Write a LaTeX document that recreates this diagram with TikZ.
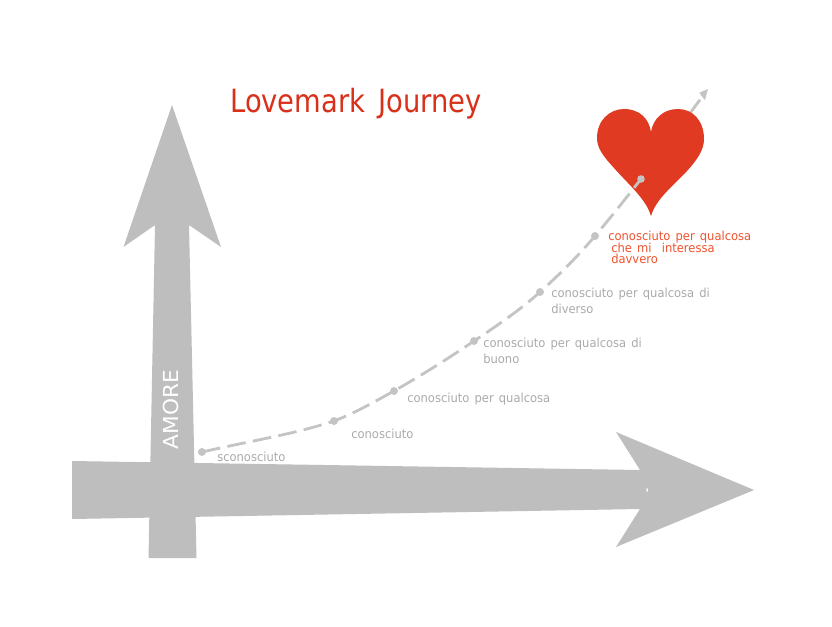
\documentclass[tikz,border=0pt]{standalone}
\usepackage{fontspec}
\usetikzlibrary{calc}
\setmainfont{DejaVu Sans}
\newfontfamily\labelfont[FakeStretch=0.93,WordSpace=1.4]{DejaVu Sans}
\newfontfamily\titlefont[FakeStretch=0.855,WordSpace=1.5]{DejaVu Sans}
\newfontfamily\amorefont[FakeStretch=1.05]{DejaVu Sans}
\definecolor{arrowgray}{HTML}{BEBEBE}
\definecolor{dashgray}{HTML}{C4C4C4}
\definecolor{labelgray}{HTML}{ABABAB}
\definecolor{heartred}{HTML}{E03A22}
\definecolor{titlered}{HTML}{D9301A}
\definecolor{notered}{HTML}{F0532F}
\tikzset{
  bigarrow/.style={fill=arrowgray,draw=none},
  dotnode/.style={circle,fill=dashgray,draw=none,inner sep=0pt,minimum size=5.7pt},
  curveline/.style={draw=dashgray,line width=2.1pt,dash pattern=on 14pt off 5.5pt},
  steplabel/.style={anchor=north west,inner sep=0pt,text=labelgray,font=\labelfont\fontsize{9.3pt}{12pt}\selectfont,align=left},
  notelabel/.style={anchor=west,inner sep=0pt,text=notered,font=\labelfont\fontsize{9.3pt}{9pt}\selectfont},
}
\begin{document}
\begin{tikzpicture}[x=0.75pt,y=-0.75pt]
\useasboundingbox (0,0) rectangle (832,626);
\fill[white] (0,0) rectangle (832,626);
% vertical arrow
\fill[bigarrow] (172,105) -- (221,247) -- (189,225) -- (196.5,558) -- (148.5,558) -- (155,225) -- (123.5,247) -- cycle;
% horizontal arrow
\fill[bigarrow] (72,461) -- (640,470) -- (616,432) -- (754,490) -- (616,547) -- (640,509) -- (72,519) -- cycle;
\fill[white] (647,487.5) -- (648,490) -- (647,492.5) -- (646.3,490) -- cycle;
\node[rotate=90,text=white,inner sep=0pt,font=\amorefont\fontsize{15.5pt}{18pt}\selectfont] (amore) at (171,409.5) {AMORE};
% heart and its arrow come after the named points
\node[dotnode] (p1) at (202,452) {};
\node[dotnode] (p2) at (334,421) {};
\node[dotnode] (p3) at (394,391) {};
\node[dotnode] (p4) at (474,341) {};
\node[dotnode] (p5) at (540,292) {};
\node[dotnode] (p6) at (595,236) {};
\node[dotnode] (p7) at (641,179) {};
\coordinate (tip) at (708,89);
% last stretch and arrowhead
\draw[dashgray,line width=2.1pt] (p7.center) -- ($(p7)!0.88!(tip)$) coordinate (neck);
\fill[dashgray] (tip) -- (699.3,92.7) -- (702,96.7) -- (705,100) -- cycle;
% heart
\fill[heartred] (651,216)
  .. controls (646,199) and (629,185) .. (614,168)
  .. controls (603,156) and (597,148) .. (597,138)
  .. controls (597,120) and (610,109) .. (624,109)
  .. controls (640,109) and (649,119) .. (651,132)
  .. controls (653,119) and (663,109) .. (678,109)
  .. controls (693,109) and (704,121) .. (704,139)
  .. controls (704,150) and (697,160) .. (687,171)
  .. controls (672,187) and (656,199) .. (651,216) -- cycle;
% curve
\draw[curveline] (p1.center) .. controls (250,441) and (295,434) .. (p2.center)
  .. controls (355,413) and (374,402) .. (p3.center)
  .. controls (422,375) and (449,358) .. (p4.center)
  .. controls (498,325) and (520,310) .. (p5.center)
  .. controls (560,274) and (578,256) .. (p6.center)
  .. controls (612,216) and (626,198) .. (p7.center);
\foreach \n in {p1,p2,p3,p4,p5,p6,p7} \fill[dashgray] (\n) circle (3.8);
% title
\node[anchor=west,inner sep=0pt,text=titlered,font=\titlefont\fontsize{24pt}{28pt}\selectfont] (title) at (230,103.5) {Lovemark Journey};
% labels
\node[steplabel] (l1) at (217,451.5) {sconosciuto};
\node[steplabel] (l2) at (351,428.5) {conosciuto};
\node[steplabel] (l3) at (407,392.5) {conosciuto per qualcosa};
\node[steplabel] (l4) at (483,337.5) {conosciuto per qualcosa di\\buono};
\node[steplabel] (l5) at (551,287.5) {conosciuto per qualcosa di\\diverso};
\node[notelabel] (n1) at (608,237) {conosciuto per qualcosa};
\node[notelabel] (n2) at (611,248) {che mi\ \ interessa};
\node[notelabel] (n3) at (611,259) {davvero};
\end{tikzpicture}
\end{document}
